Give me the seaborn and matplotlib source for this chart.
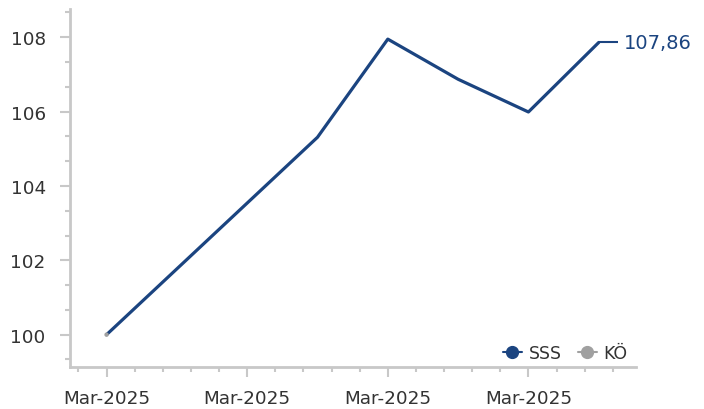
import matplotlib
matplotlib.use("Agg")
import matplotlib.pyplot as plt
from matplotlib.lines import Line2D
import numpy as np
import pandas as pd
import seaborn as sns

# ---- data ----
sss_x = [0, 3, 4, 5, 6, 7]
sss_y = [100.0, 105.31, 107.95, 106.87, 105.99, 107.86]
ko_x = [0]
ko_y = [100.0]
x_major = [0, 2, 4, 6]
x_labels = ["Mar-2025", "Mar-2025", "Mar-2025", "Mar-2025"]
y_major = [100, 102, 104, 106, 108]
last_label = "107,86"

BLUE = "#1b4480"
GRAY = "#a0a0a0"
SPINE = "#c8c8c8"

sns.set_theme(style="white")
plt.rcParams["font.family"] = ["DejaVu Sans"]

fig = plt.figure(figsize=(7.04, 4.10), dpi=100)
ax = fig.add_axes([70 / 704, 1 - 368 / 410, (636 - 70) / 704, (368 - 10) / 410])

df_sss = pd.DataFrame({"x": sss_x, "y": sss_y})
df_ko = pd.DataFrame({"x": ko_x, "y": ko_y})
sns.lineplot(data=df_sss, x="x", y="y", ax=ax, color=BLUE, linewidth=2.3)
sns.scatterplot(data=df_ko, x="x", y="y", ax=ax, color=GRAY, s=10, edgecolor="none", zorder=5)

ax.set_xlim(-0.52, 7.53)
ax.set_ylim(99.13, 108.76)

ax.set_xticks(x_major)
ax.set_xticklabels(x_labels)
ax.set_xticks(np.arange(-0.4, 7.3, 0.4), minor=True)
ax.set_yticks(y_major)
ax.set_yticklabels([str(v) for v in y_major])
ax.set_yticks(np.arange(99 + 1 / 3, 108.7, 2 / 3), minor=True)

ax.tick_params(axis="both", which="major", length=7.5, width=1.5, color=SPINE,
               labelsize=13.2, labelcolor="#333333", direction="out")
ax.tick_params(axis="both", which="minor", length=3.5, width=1.5, color=SPINE, direction="out")
ax.tick_params(axis="x", which="major", pad=8)
ax.tick_params(axis="y", which="major", pad=10)
ax.tick_params(left=True, bottom=True, which="both")

for side in ["top", "right"]:
    ax.spines[side].set_visible(False)
for side in ["left", "bottom"]:
    ax.spines[side].set_color(SPINE)
    ax.spines[side].set_linewidth(2.0)

ax.set_xlabel("")
ax.set_ylabel("")
ax.grid(False)

# end label
lx, ly = sss_x[-1], sss_y[-1]
ax.plot([lx, lx + 0.28], [ly, ly], color=BLUE, linewidth=1.5, solid_capstyle="butt")
ax.text(lx + 0.36, ly, last_label, color=BLUE, fontsize=14, va="center", ha="left")

handles = [
    Line2D([0], [0], color=BLUE, marker="o", markersize=8.5, linewidth=1.5),
    Line2D([0], [0], color=GRAY, marker="o", markersize=8.5, linewidth=1.5),
]
ax.legend(handles, ["SSS", "KÖ"], loc="lower right", ncol=2, frameon=False,
          fontsize=12.5, handlelength=1.1, handletextpad=0.4, columnspacing=0.9,
          bbox_to_anchor=(1.013, -0.03), labelcolor="#333333")

fig.savefig("out.png", dpi=100)
